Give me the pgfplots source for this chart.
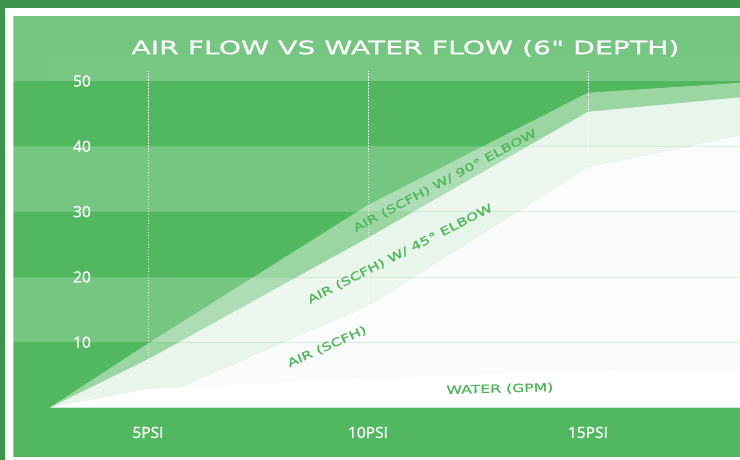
\documentclass[border=0pt]{standalone}
\usepackage{fontspec}
\setmainfont{Open Sans}
\newfontfamily\tickfont[FakeBold=1.6]{Open Sans}
\newfontfamily\widefont[FakeStretch=1.4,FakeBold=1.0]{DejaVu Sans}
\newfontfamily\titlefont[FakeStretch=1.53,FakeBold=1.0]{DejaVu Sans}
\usepackage{pgfplots}
\usepackage{pgfplotstable}
\pgfplotsset{compat=1.18}
\definecolor{outer}{HTML}{3D954C}
\definecolor{lightband}{HTML}{74C680}
\definecolor{darkband}{HTML}{51B85F}
\definecolor{labelgreen}{HTML}{4DB65B}

% x: PSI, y: flow
\pgfplotstableread{
x y
2.77 0
5 9.8
10 31
15 48.2
20 50.4
}\elbowninety
\pgfplotstableread{
x y
2.77 0
5 7.4
10 26
15 45.3
20 48.5
}\elbowfortyfive
\pgfplotstableread{
x y
2.77 0
5 1.0
10 15.6
15 36.8
20 43.9
}\airscfh
\pgfplotstableread{
x y
2.77 0
5 2.8
10 4.4
15 5.5
20 5.95
}\water

\begin{document}
\begin{tikzpicture}[x=1pt,y=1pt]
\fill[white] (0,0) rectangle (740,460);
\fill[outer] (0,452) rectangle (740,460);
\fill[outer] (0,0) rectangle (5,460);
\begin{axis}[
  set layers=axis on top,
  at={(13.3pt,3.3pt)}, anchor=south west,
  scale only axis, width=726.7pt, height=441pt,
  xmin=1.939, xmax=18.4545, ymin=-7.53, ymax=60,
  axis line style={draw=none},
  major tick length=0pt,
  xtick={5,10,15}, xticklabels={5PSI,10PSI,15PSI},
  ytick={10,20,30,40,50}, yticklabels={10,20,30,40,50},
  /pgf/number format/assume math mode=true,
  ticklabel style={font=\tickfont\fontsize{15.5}{18}\selectfont, text=white},
  xticklabel style={anchor=center, yshift=24.2pt},
  yticklabel style={anchor=center, xshift=68.7pt},
  clip=true,
]
% background bands
\fill[lightband] (axis cs:1.939,50) rectangle (axis cs:18.4545,60);
\fill[darkband]  (axis cs:1.939,40) rectangle (axis cs:18.4545,50);
\fill[lightband] (axis cs:1.939,30) rectangle (axis cs:18.4545,40);
\fill[darkband]  (axis cs:1.939,20) rectangle (axis cs:18.4545,30);
\fill[lightband] (axis cs:1.939,10) rectangle (axis cs:18.4545,20);
\fill[darkband]  (axis cs:1.939,-7.53) rectangle (axis cs:18.4545,10);
\fill[white, opacity=0.03] (axis cs:2.72,50) rectangle (axis cs:18.4545,53.7);
% vertical dashed grid
\pgfplotsinvokeforeach{5,10,15}{
  \draw[white, line width=0.6pt, dash pattern=on 1.5pt off 1.5pt, opacity=0.85]
    (axis cs:#1,0) -- (axis cs:#1,51.5);
}
% series areas
\addplot[draw=none, fill=white, fill opacity=0.42] table {\elbowninety} \closedcycle;
\addplot[draw=none, fill=white, fill opacity=0.78] table {\elbowfortyfive} \closedcycle;
\addplot[draw=none, fill=white, fill opacity=0.77] table {\airscfh} \closedcycle;
% horizontal faint grid
\pgfplotsinvokeforeach{10,20,30,40,50}{
  \draw[darkband, line width=0.5pt, opacity=0.18]
    (axis cs:1.939,#1) -- (axis cs:18.4545,#1);
}
% boundary lines
\addplot[darkband, opacity=0.3, line width=0.5pt, densely dotted] table {\elbowfortyfive};
\addplot[darkband, opacity=0.3, line width=0.5pt, densely dotted] table {\airscfh};
\addplot[draw=none, fill=white] table {\water} \closedcycle;
% series labels
\node[font=\widefont\fontsize{11.2}{13}\selectfont, text=labelgreen, rotate=1.5]
  at (axis cs:13.0,2.83) {WATER (GPM)};
\node[font=\widefont\fontsize{11.2}{13}\selectfont, text=labelgreen, rotate=24]
  at (axis cs:9.07,9.3) {AIR (SCFH)};
\node[font=\widefont\fontsize{11.2}{13}\selectfont, text=labelgreen, rotate=27]
  at (axis cs:10.73,23.5) {AIR (SCFH) W/ 45° ELBOW};
\node[font=\widefont\fontsize{11.2}{13}\selectfont, text=labelgreen, rotate=28]
  at (axis cs:11.75,34.7) {AIR (SCFH) W/ 90° ELBOW};
\end{axis}
\node[font=\titlefont\fontsize{18.5}{22}\selectfont, text=white] at (405.5,411.6) {AIR FLOW VS WATER FLOW (6" DEPTH)};
\end{tikzpicture}
\end{document}
